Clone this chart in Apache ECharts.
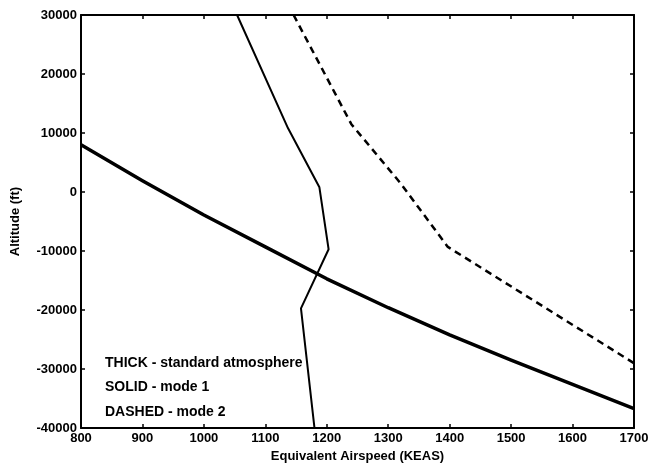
<!DOCTYPE html>
<html>
<head>
<meta charset="utf-8">
<script src="https://cdn.jsdelivr.net/npm/echarts@6/dist/echarts.min.js"></script>
<style>html,body{margin:0;padding:0;background:#fff}#c{width:653px;height:468px}</style>
</head>
<body>
<div id="c"></div>
<script>
// Data (x = KEAS, y = altitude ft)
const thickX = [800, 900, 1000, 1100, 1200, 1300, 1400, 1500, 1600, 1700];
const thickY = [8000, 1900, -3900, -9300, -14700, -19600, -24200, -28500, -32600, -36700];
const mode1X = [1054, 1137, 1188, 1203, 1158, 1180];
const mode1Y = [30000, 10800, 800, -9700, -19700, -40000];
const mode2X = [1146, 1240, 1320, 1397, 1700];
const mode2Y = [30000, 11500, 1500, -9300, -29000];
const legendLines = ['THICK - standard atmosphere', 'SOLID - mode 1', 'DASHED - mode 2'];
const xTitle = 'Equivalent Airspeed (KEAS)';
const yTitle = 'Altitude (ft)';

const pairs = (xs, ys) => xs.map((x, i) => [x, ys[i]]);
const FONT = 'Liberation Sans';
const chart = echarts.init(document.getElementById('c'), null, {renderer: 'canvas'});
const axisLine = {show: true, onZero: false, lineStyle: {color: '#000', width: 2}};
const tick = {show: true, inside: true, length: 4, lineStyle: {color: '#000', width: 1.5}};
const plain = v => String(v);
chart.setOption({
  backgroundColor: '#fff',
  animation: false,
  grid: {left: 81, right: 19, top: 15, bottom: 33, containLabel: false},
  xAxis: [{
    type: 'value', min: 800, max: 1700, interval: 100, position: 'bottom',
    axisLine, axisTick: tick, splitLine: {show: false},
    axisLabel: {color: '#000', fontFamily: FONT, fontWeight: 'bold', fontSize: 13, margin: 4, formatter: plain},
    name: xTitle, nameLocation: 'middle', nameGap: 20,
    nameTextStyle: {color: '#000', fontFamily: FONT, fontWeight: 'bold', fontSize: 13}
  }, {
    type: 'value', min: 800, max: 1700, interval: 100, position: 'top',
    axisLine, axisTick: tick, axisLabel: {show: false}, splitLine: {show: false}
  }],
  yAxis: [{
    type: 'value', min: -40000, max: 30000, interval: 10000, position: 'left',
    axisLine, axisTick: tick, splitLine: {show: false},
    axisLabel: {color: '#000', fontFamily: FONT, fontWeight: 'bold', fontSize: 13, margin: 4, formatter: plain},
    name: yTitle, nameLocation: 'middle', nameGap: 59, nameRotate: 90,
    nameTextStyle: {color: '#000', fontFamily: FONT, fontWeight: 'bold', fontSize: 13}
  }, {
    type: 'value', min: -40000, max: 30000, interval: 10000, position: 'right',
    axisLine, axisTick: tick, axisLabel: {show: false}, splitLine: {show: false}
  }],
  series: [{
    type: 'line', name: 'standard atmosphere', data: pairs(thickX, thickY), smooth: false,
    symbol: 'none', lineStyle: {color: '#000', width: 3.5, join: 'round'}, z: 3
  }, {
    type: 'line', name: 'mode 1', data: pairs(mode1X, mode1Y), smooth: false,
    symbol: 'none', lineStyle: {color: '#000', width: 2}, z: 3
  }, {
    type: 'line', name: 'mode 2', data: pairs(mode2X, mode2Y), smooth: false,
    symbol: 'none', lineStyle: {color: '#000', width: 2.5, type: [7, 5]}, z: 3
  }],
  graphic: legendLines.map((t, i) => ({
    type: 'text', left: 105, top: 356 + i * 24.5,
    style: {text: t, fill: '#000', font: 'bold 14px "' + FONT + '"'}
  }))
});
</script>
</body>
</html>
